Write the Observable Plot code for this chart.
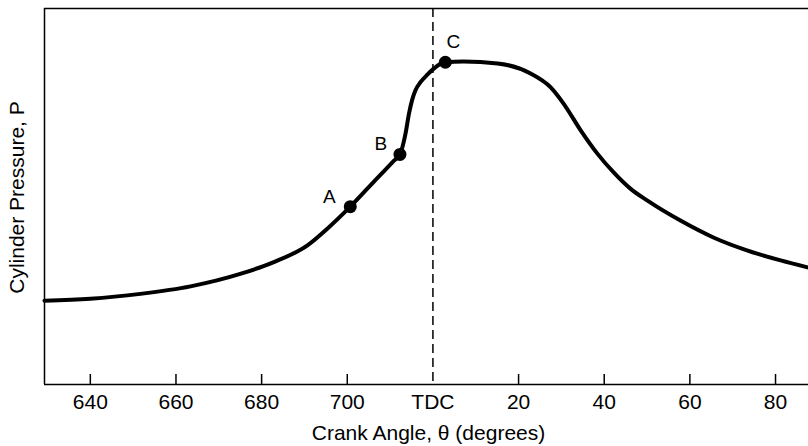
<!DOCTYPE html>
<html><head><meta charset="utf-8">
<script src="https://cdn.jsdelivr.net/npm/d3@7"></script>
<script src="https://cdn.jsdelivr.net/npm/@observablehq/plot@0.6"></script>
<style>html,body{margin:0;padding:0;background:#fff}</style>
</head><body><div id="chart"></div>
<script>
// Crank angle (degrees, 720 = TDC) and cylinder pressure (arbitrary units)
const angle = [629.3, 640, 651.7, 663.4, 675, 682.7, 690.7, 695.4, 700.7, 706.5, 710.8, 712.3, 713.6, 714.4, 715.1, 715.9, 717.1, 718.7, 720.2, 721.8, 722.9, 727.1, 735.1, 742.8, 747.5, 750.5, 754.5, 758.4, 762.2, 766.1, 770.1, 777.8, 785.5, 793.5, 801.2, 807.7];
const pressure = [22.3, 22.8, 24.1, 26.1, 29.4, 32.5, 37.0, 41.5, 47.3, 54.3, 59.4, 61.2, 66.7, 72.0, 75.5, 78.2, 80.4, 82.4, 84.0, 85.3, 85.7, 85.9, 85.4, 82.7, 79.0, 74.7, 67.6, 61.4, 56.4, 52.1, 48.9, 43.6, 39.1, 35.6, 33.0, 31.1];

const pointLabels = ["A", "B", "C"];
const pointAngles = [700.7, 712.3, 722.9];
const pointPressures = [47.3, 61.2, 85.7];

const tdcAngle = 720;
const xDomain = [629.3, 807.7];
const yDomain = [0, 100];
const tickValues = [640, 660, 680, 700, 740, 760, 780, 800];
const labelValues = [640, 660, 680, 700, 720, 740, 760, 780, 800];
const tickLabels = ["640", "660", "680", "700", "TDC", "20", "40", "60", "80"];
const xTitle = "Crank Angle, \u03b8 (degrees)";
const yTitle = "Cylinder Pressure, P";

const curve = angle.map((a, i) => ({angle: a, pressure: pressure[i]}));
const points = pointLabels.map((l, i) => ({label: l, angle: pointAngles[i], pressure: pointPressures[i]}));

const font = "'Liberation Sans', Arial, Helvetica, sans-serif";

const chart = Plot.plot({
  width: 808,
  height: 446,
  marginLeft: 44,
  marginRight: 0,
  marginTop: 8,
  marginBottom: 62,
  style: {fontFamily: font, fontSize: "21px", color: "black", background: "white"},
  x: {domain: xDomain, axis: null},
  y: {domain: yDomain, axis: null},
  marks: [
    Plot.ruleY(yDomain, {stroke: "black", strokeWidth: 1.5}),
    Plot.ruleX([xDomain[0]], {stroke: "black", strokeWidth: 1.5}),
    Plot.tickX(tickValues, {x: d => d, stroke: "black", strokeWidth: 1.5, insetTop: 366}),
    Plot.axisX(labelValues, {tickSize: 0, tickPadding: 10, fontSize: 21, fill: "black",
      tickFormat: d => tickLabels[labelValues.indexOf(d)], label: null}),
    Plot.ruleX([tdcAngle], {stroke: "black", strokeWidth: 1.5, strokeDasharray: "9,5"}),
    Plot.line(curve, {x: "angle", y: "pressure", curve: "monotone-x", stroke: "black", strokeWidth: 4}),
    Plot.dot(points, {x: "angle", y: "pressure", r: 6.5, fill: "black"}),
    Plot.text(points, {filter: d => d.label === "A", x: "angle", y: "pressure", text: "label", dx: -21, dy: -10, fontSize: 19, fill: "black"}),
    Plot.text(points, {filter: d => d.label === "B", x: "angle", y: "pressure", text: "label", dx: -19, dy: -10, fontSize: 19, fill: "black"}),
    Plot.text(points, {filter: d => d.label === "C", x: "angle", y: "pressure", text: "label", dx: 8, dy: -20, fontSize: 19, fill: "black"}),
    Plot.text([xTitle], {frameAnchor: "bottom", text: d => d, textAnchor: "middle", lineAnchor: "middle", dy: 49, dx: 2, fontSize: 21, fill: "black"}),
    Plot.text([yTitle], {frameAnchor: "left", text: d => d, textAnchor: "middle", lineAnchor: "middle", rotate: -90, dx: -27, dy: 1, fontSize: 21, fill: "black"})
  ]
});
document.getElementById("chart").appendChild(chart);
</script>
</body></html>
